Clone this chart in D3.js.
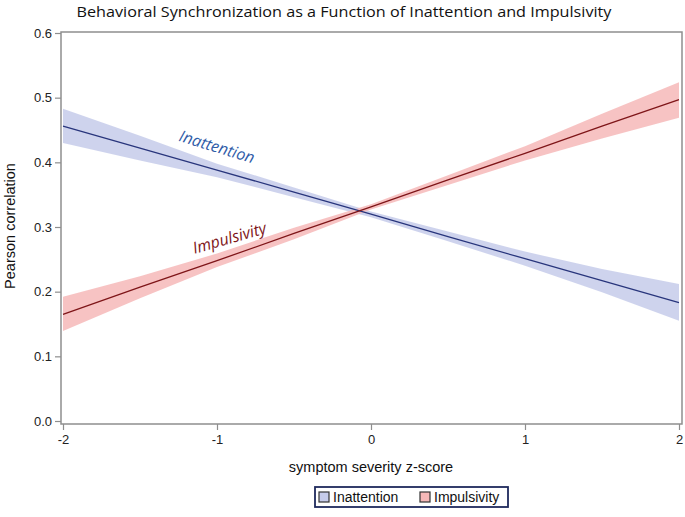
<!DOCTYPE html>
<html>
<head>
<meta charset="utf-8">
<script src="https://cdn.jsdelivr.net/npm/d3@7"></script>
<style>
  body { margin: 0; background: #fff; }
  svg { display: block; }
</style>
</head>
<body>
<div id="chart"></div>
<script>
// chart data
const xs = [-2, -1.5, -1, -0.5, 0, 0.5, 1, 1.5, 2];
const inattFit = [0.456, 0.422, 0.388, 0.354, 0.320, 0.285, 0.251, 0.217, 0.183];
const inattLower = [0.430, 0.403, 0.377, 0.346, 0.315, 0.278, 0.240, 0.199, 0.155];
const inattUpper = [0.483, 0.441, 0.398, 0.361, 0.324, 0.293, 0.262, 0.235, 0.212];
const impFit = [0.165, 0.207, 0.248, 0.290, 0.331, 0.373, 0.414, 0.456, 0.497];
const impLower = [0.139, 0.190, 0.238, 0.281, 0.327, 0.365, 0.403, 0.437, 0.469];
const impUpper = [0.192, 0.224, 0.259, 0.299, 0.335, 0.380, 0.425, 0.475, 0.524];
const xTicks = [-2, -1, 0, 1, 2];
const yTicks = [0, 0.1, 0.2, 0.3, 0.4, 0.5, 0.6];

// set dimensions
const width = 685,
    height = 517;

const svg = d3.select("#chart")
    .append("svg")
    .attr("width", width)
    .attr("height", height);

// scales
const xScale = d3.scaleLinear()
    .domain([-2, 2])
    .range([63, 679]);

const yScale = d3.scaleLinear()
    .domain([0, 0.6])
    .range([421, 33]);

const frame = { left: 61, right: 682, top: 32, bottom: 424 };
const axisColor = "#8e8e8e";
const sans = "Liberation Sans, Arial, sans-serif";

// series setup
const series = [
    { name: "Inattention", fit: inattFit, lo: inattLower, hi: inattUpper,
      band: "#c6cbea", line: "#28357c", label: "#2f5ca8" },
    { name: "Impulsivity", fit: impFit, lo: impLower, hi: impUpper,
      band: "#f6b8b8", line: "#7e1518", label: "#7e1518" }
];

// bands
const area = d3.area()
    .x(d => xScale(d.x))
    .y0(d => yScale(d.lo))
    .y1(d => yScale(d.hi));

const line = d3.line()
    .x(d => xScale(d.x))
    .y(d => yScale(d.y));

series.forEach(s => {
    const pts = xs.map((x, i) => ({ x: x, lo: s.lo[i], hi: s.hi[i] }));
    svg.append("path")
        .datum(pts)
        .attr("d", area)
        .attr("fill", s.band)
        .attr("fill-opacity", 0.85);
});

series.forEach(s => {
    const pts = xs.map((x, i) => ({ x: x, y: s.fit[i] }));
    svg.append("path")
        .datum(pts)
        .attr("d", line)
        .attr("fill", "none")
        .attr("stroke", s.line)
        .attr("stroke-width", 1.3);
});

// frame
svg.append("rect")
    .attr("x", frame.left)
    .attr("y", frame.top)
    .attr("width", frame.right - frame.left)
    .attr("height", frame.bottom - frame.top)
    .attr("fill", "none")
    .attr("stroke", axisColor)
    .attr("stroke-width", 1.5);

// axes (hyphen minus like the original)
const yAxis = d3.axisLeft(yScale)
    .tickValues(yTicks)
    .tickSize(6)
    .tickPadding(3)
    .tickFormat(d3.format(".1f"));

const xAxis = d3.axisBottom(xScale)
    .tickValues(xTicks)
    .tickSize(6)
    .tickPadding(5)
    .tickFormat(d => String(d));

const gy = svg.append("g")
    .attr("transform", "translate(" + frame.left + ",0)")
    .call(yAxis);

const gx = svg.append("g")
    .attr("transform", "translate(0," + frame.bottom + ")")
    .call(xAxis);

[gx, gy].forEach(g => {
    g.select(".domain").remove();
    g.selectAll("line").attr("stroke", axisColor).attr("stroke-width", 1.2);
    g.selectAll("text")
        .attr("fill", "#222")
        .style("font-family", sans)
        .style("font-size", "13px");
});

// title
svg.append("text")
    .attr("x", 344)
    .attr("y", 17)
    .attr("text-anchor", "middle")
    .attr("fill", "#111")
    .style("font-family", "Open Sans, sans-serif")
    .style("font-size", "15px")
    .attr("textLength", 535)
    .attr("lengthAdjust", "spacingAndGlyphs")
    .text("Behavioral Synchronization as a Function of Inattention and Impulsivity");

// axis labels
svg.append("text")
    .attr("x", 371)
    .attr("y", 472)
    .attr("text-anchor", "middle")
    .attr("fill", "#111")
    .style("font-family", sans)
    .style("font-size", "14.5px")
    .text("symptom severity z-score");

svg.append("text")
    .attr("transform", "translate(15,226) rotate(-90)")
    .attr("text-anchor", "middle")
    .attr("fill", "#111")
    .style("font-family", sans)
    .style("font-size", "14.5px")
    .text("Pearson correlation");

// in-plot labels
const labels = [
    { text: "Inattention", x: -1.0, y: 0.424, angle: 17, color: series[0].label },
    { text: "Impulsivity", x: -0.92, y: 0.283, angle: -16, color: series[1].label }
];

svg.selectAll(".series-label")
    .data(labels)
    .enter()
    .append("text")
    .attr("class", "series-label")
    .attr("transform", d => `translate(${xScale(d.x)},${yScale(d.y)}) rotate(${d.angle})`)
    .attr("text-anchor", "middle")
    .attr("dy", "0.35em")
    .attr("fill", d => d.color)
    .style("font-family", "Open Sans, sans-serif")
    .style("font-style", "italic")
    .style("font-size", "16px")
    .text(d => d.text);

// legend
const legend = svg.append("g")
    .attr("transform", "translate(315,487)");

legend.append("rect")
    .attr("width", 193)
    .attr("height", 20)
    .attr("fill", "#fff")
    .attr("stroke", "#1f2a5c")
    .attr("stroke-width", 1.8);

const legendItems = legend.selectAll(".legend-item")
    .data(series)
    .enter()
    .append("g")
    .attr("class", "legend-item")
    .attr("transform", (d, i) => `translate(${4 + i * 101},10)`);

legendItems.append("rect")
    .attr("x", 0)
    .attr("y", -5)
    .attr("width", 10)
    .attr("height", 10)
    .attr("fill", d => d.band)
    .attr("stroke", "#333")
    .attr("stroke-width", 1.2);

legendItems.append("text")
    .attr("x", 14)
    .attr("dy", "0.35em")
    .attr("fill", "#111")
    .style("font-family", sans)
    .style("font-size", "14px")
    .text(d => d.name);
</script>
</body>
</html>
